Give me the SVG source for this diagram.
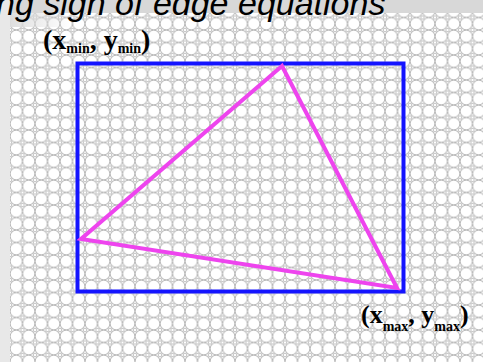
<svg xmlns="http://www.w3.org/2000/svg" width="483" height="362" viewBox="0 0 483 362">
  <style>
    .title { font-family: "Liberation Sans", Arial, sans-serif; font-style: italic; font-size: 34px; fill: #000; }
    .lbl { font-family: "Liberation Serif", "Times New Roman", serif; font-weight: bold; fill: #000; }
    .sub { font-size: 14px; }
    .box { fill: none; stroke: #1414ff; stroke-width: 4; }
    .tri { fill: none; stroke: #ee44ee; stroke-width: 4; stroke-linejoin: miter; }
  </style>
  <defs>
    <pattern id="dots" patternUnits="userSpaceOnUse" x="10" y="42.5" width="12.5" height="12.5">
      <rect width="12.5" height="12.5" fill="#ffffff"/>
      <circle cx="6.25" cy="6.25" r="6.1" fill="none" stroke="#ababab" stroke-width="0.9"/>
      <circle cx="0" cy="0" r="1.8" fill="#ffffff" stroke="#ababab" stroke-width="0.8"/>
      <circle cx="12.5" cy="0" r="1.8" fill="#ffffff" stroke="#ababab" stroke-width="0.8"/>
      <circle cx="0" cy="12.5" r="1.8" fill="#ffffff" stroke="#ababab" stroke-width="0.8"/>
      <circle cx="12.5" cy="12.5" r="1.8" fill="#ffffff" stroke="#ababab" stroke-width="0.8"/>
    </pattern>
    <linearGradient id="fadeL" x1="0" y1="0" x2="1" y2="0">
      <stop offset="0" stop-color="#dcdcdc" stop-opacity="0.95"/>
      <stop offset="1" stop-color="#dcdcdc" stop-opacity="0"/>
    </linearGradient>
  </defs>

  <g id="background">
    <rect x="0" y="0" width="483" height="362" fill="url(#dots)"/>
    <rect x="0" y="0" width="483" height="13" fill="#d8d8d8"/>
    <rect x="10" y="13" width="60" height="14" fill="url(#fadeL)"/>
    <rect x="0" y="0" width="10" height="362" fill="#e8e8e8"/>
  </g>

  <g id="title">
    <text class="title" x="-4" y="15">ng sign of edge equations</text>
  </g>

  <g id="bbox">
    <rect class="box" x="77.5" y="63.5" width="326" height="228"/>
  </g>

  <g id="connectors">
    <polygon class="tri" points="282,66 81,239 397,288"/>
  </g>

  <g id="label-min">
    <text class="lbl" x="43" y="48.5" font-size="28">(x<tspan class="sub" dy="4">min</tspan><tspan dy="-4">, y</tspan><tspan class="sub" dy="4">min</tspan><tspan dy="-4">)</tspan></text>
  </g>

  <g id="label-max">
    <text class="lbl" x="361" y="323" font-size="26">(x<tspan class="sub" dy="8">max</tspan><tspan dy="-8">, y</tspan><tspan class="sub" dy="8">max</tspan><tspan dy="-8">)</tspan></text>
  </g>
</svg>
